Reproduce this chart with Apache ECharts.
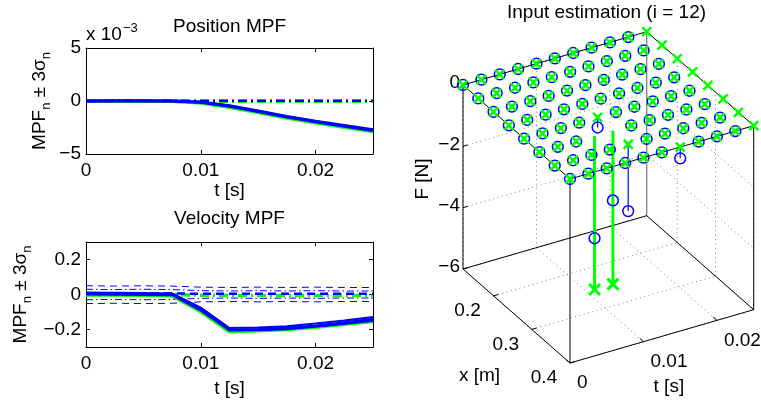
<!DOCTYPE html>
<html><head><meta charset="utf-8">
<script src="https://cdn.jsdelivr.net/npm/echarts@6/dist/echarts.min.js"></script>
<style>html,body{margin:0;padding:0;background:#fff}#c{width:761px;height:402px}</style>
</head><body><div id="c"></div>
<script>
// ---------- data: left panels ----------
const tSteps = [0, 0.0025, 0.005, 0.0075, 0.01, 0.0125, 0.015, 0.0175, 0.02, 0.0225, 0.025];
// position MPF (units of 1e-3)
const posBlueA  = [0, 0, 0, 0, -0.10, -0.45, -0.95, -1.45, -1.90, -2.30, -2.70];
const posBlueB  = [0, 0.02, 0.02, 0, -0.12, -0.50, -1.00, -1.50, -1.95, -2.38, -2.78];
const posGreen  = [0, -0.05, -0.05, -0.05, -0.22, -0.62, -1.12, -1.62, -2.08, -2.50, -2.90];
const posBndBlue  = [0.03, 0.03, 0.03, 0.03, 0.03, 0.03, 0.03, 0.03, 0.03, 0.03, 0.03];
const posBndGreen = [-0.03, -0.03, -0.03, -0.03, -0.03, -0.03, -0.03, -0.03, -0.03, -0.03, -0.03];
// velocity MPF
const velBlueA = [0.005, 0.005, 0.003, 0.002, -0.085, -0.200, -0.198, -0.192, -0.178, -0.160, -0.140];
const velBlueB = [0.012, 0.010, 0.008, 0.006, -0.075, -0.192, -0.188, -0.182, -0.166, -0.148, -0.128];
const velBlueC = [0.000, -0.002, -0.003, -0.004, -0.092, -0.206, -0.204, -0.198, -0.184, -0.168, -0.150];
const velGreen = [-0.004, -0.005, -0.006, -0.008, -0.100, -0.214, -0.208, -0.202, -0.188, -0.172, -0.156];
const velDashUp  = [0.050, 0.048, 0.050, 0.048, 0.042, 0.040, 0.042, 0.040, 0.042, 0.040, 0.040];
const velDashLo  = [-0.052, -0.050, -0.052, -0.050, -0.042, -0.040, -0.042, -0.040, -0.042, -0.040, -0.040];
const velDotUp   = [0.030, 0.028, 0.030, 0.028, 0.022, 0.020, 0.022, 0.020, 0.022, 0.020, 0.020];
const velDotLo   = [-0.030, -0.028, -0.030, -0.028, -0.022, -0.020, -0.022, -0.020, -0.022, -0.020, -0.020];
const velGreenBnd = [0.000, 0.000, 0.000, 0.000, -0.004, -0.005, -0.005, -0.005, -0.005, -0.005, -0.005];
const velBlueBnd  = [0.006, 0.006, 0.006, 0.006, 0.004, 0.004, 0.004, 0.004, 0.004, 0.004, 0.004];
const tTicks = [0, 0.01, 0.02];
const posTicks = [-5, 0, 5];
const velTicks = [-0.2, 0, 0.2];

// ---------- data: input estimation (3D) ----------
const xNodes = [0.12, 0.16, 0.20, 0.24, 0.28, 0.32, 0.36, 0.40];
const tNodes = [0, 0.0025, 0.005, 0.0075, 0.01, 0.0125, 0.015, 0.0175, 0.02, 0.0225, 0.025];
// true force (green x), rows = xNodes, cols = tNodes
const fTrue = [
  [0,0,0,0,0,0,0,0,0,0,0],
  [0,0,0,0,0,0,0,0,0,0,0],
  [0,0,0,0,0,0,0,0,0,0,0],
  [0,0,0,0,0,0,0,0,0,0,0],
  [0,0,0,0,0,0,0,0,0,0,0],
  [0,0,0,-5,-5,0,0,0,0,0,0],
  [0,0,0,0,0,0,0,0,0,0,0],
  [0,0,0,0,0,0,0,0,0,0,0]
];
// estimated force (blue o), rows = xNodes, cols = first 10 tNodes
const fEst = [
  [0,0,0,0,0,0,0,0,0,0],
  [0,0,0,0,0,0,0,0,0,0],
  [0,0,0,0,0,0,0,0,0,0],
  [0,0,0,0,0,0,0,0,0,0],
  [0,0,0,0,-0.33,0,0,0,0,0],
  [0,0,0,-3.33,-2.27,0,0,0,0,0],
  [0,0,0,0,-2.18,0,0,0,0,0],
  [0,0,0,0,0,0,-0.37,0,0,0]
];
const x3Ticks = [0.2, 0.3, 0.4];
const t3Ticks = [0, 0.01, 0.02];
const f3Ticks = [0, -2, -4, -6];
const x3Range = [0.12, 0.40];
const t3Range = [0, 0.025];
const f3Range = [-6, 0];

// ---------- layout / style ----------
const FONT = 'Liberation Sans, Arial, Helvetica, sans-serif';
const FS = 19;
const BLUE = '#0000ff', GREEN = '#00ff00';
// view of the 3D box (screen vectors of the full axis ranges)
const VIEW = { origin: [463, 85], ex: [107, 94], et: [183.7, -53.3], ef: [0, 184] };
function proj(x, t, f) {
  const u = (x - x3Range[0]) / (x3Range[1] - x3Range[0]);
  const v = (t - t3Range[0]) / (t3Range[1] - t3Range[0]);
  const w = (f3Range[1] - f) / (f3Range[1] - f3Range[0]);
  return [VIEW.origin[0] + u * VIEW.ex[0] + v * VIEW.et[0] + w * VIEW.ef[0],
          VIEW.origin[1] + u * VIEW.ex[1] + v * VIEW.et[1] + w * VIEW.ef[1]];
}
const minus = s => String(s).replace('-', '\u2212');
const fmtNum = v => minus(parseFloat((+v).toPrecision(6)));
const pairs = ys => tSteps.map((t, i) => [t, ys[i]]);

function line2d(name, xi, yi, ys, color, width, type, z) {
  return { name, type: 'line', xAxisIndex: xi, yAxisIndex: yi, data: pairs(ys), symbol: 'none',
    lineStyle: { color, width, type: type || 'solid' }, z: z || 2, silent: true, animation: false };
}

function boxAxes(gridIndex, min, max, interval, ticks, isX, name, nameGap) {
  const common = {
    gridIndex, type: 'value', min, max, interval,
    axisLine: { show: true, onZero: false, lineStyle: { color: '#000', width: 1 } },
    axisTick: { show: true, inside: true, length: 4, customValues: ticks, lineStyle: { color: '#000' } },
    splitLine: { show: false },
  };
  const main = Object.assign({}, common, {
    position: isX ? 'bottom' : 'left',
    axisLabel: { show: true, customValues: ticks, color: '#000', fontSize: FS, fontFamily: FONT,
      margin: isX ? 7 : 5, formatter: fmtNum },
    name, nameLocation: 'middle', nameGap,
    nameTextStyle: isX ? { color: '#000', fontSize: FS, fontFamily: FONT } :
      { color: '#000', fontSize: FS, fontFamily: FONT, rich: { s: { fontSize: 13, fontFamily: FONT, color: '#000', padding: [14, 0, 0, 0] } } }
  });
  const opp = Object.assign({}, common, { position: isX ? 'top' : 'right', axisLabel: { show: false } });
  return [main, opp];
}

const yName = 'MPF{s|n} \u00b1 3\u03c3{s|n}';
const [x0, x1] = boxAxes(0, 0, 0.025, 0.01, tTicks, true, 't [s]', 25);
const [x2, x3] = boxAxes(1, 0, 0.025, 0.01, tTicks, true, 't [s]', 32);
const [y0, y1] = boxAxes(0, -5, 5, 5, posTicks, false, yName, 33);
const [y2, y3] = boxAxes(1, -0.3, 0.3, 0.1, velTicks, false, yName, 52);

// ---------- 3D render functions ----------
function renderAxes3d(params, api) {
  const P = (x, t, f) => api.coord(proj(x, t, f));
  const ch = [];
  const seg = (a, b, style) => ch.push({ type: 'line', shape: { x1: a[0], y1: a[1], x2: b[0], y2: b[1] }, style });
  const dot = { stroke: '#808080', lineWidth: 1, lineDash: [1, 3.5] };
  const solid = { stroke: '#000', lineWidth: 1 };
  const [xa, xb] = x3Range, [ta, tb] = t3Range, [fa, fb] = f3Range;
  // grid: floor and back walls
  x3Ticks.forEach(x => { seg(P(x, ta, fa), P(x, tb, fa), dot); seg(P(x, tb, fa), P(x, tb, fb), dot); });
  t3Ticks.forEach(t => { seg(P(xa, t, fa), P(xb, t, fa), dot); seg(P(xa, t, fa), P(xa, t, fb), dot); });
  f3Ticks.forEach(f => { seg(P(xa, ta, f), P(xa, tb, f), dot); seg(P(xa, tb, f), P(xb, tb, f), dot); });
  // box edges
  seg(P(xa, tb, fa), P(xa, tb, fb), { stroke: '#808080', lineWidth: 1.3 });
  seg(P(xa, ta, fa), P(xa, tb, fa), solid);
  seg(P(xa, tb, fa), P(xb, tb, fa), solid);
  seg(P(xa, ta, fa), P(xb, ta, fa), solid);
  seg(P(xb, ta, fa), P(xb, tb, fa), solid);
  seg(P(xa, ta, fa), P(xa, ta, fb), solid);
  seg(P(xb, ta, fa), P(xb, ta, fb), solid);
  seg(P(xb, tb, fa), P(xb, tb, fb), solid);
  seg(P(xa, ta, fb), P(xb, ta, fb), solid);
  seg(P(xb, ta, fb), P(xb, tb, fb), solid);
  seg(P(xb, tb, fb), P(xa, tb, fb), solid);
  seg(P(xa, tb, fb), P(xa, ta, fb), solid);
  // ticks and labels
  const unit = (v, L) => { const n = Math.hypot(v[0], v[1]); return [v[0] / n * L, v[1] / n * L]; };
  const dt = unit(VIEW.et, 5), dx = unit(VIEW.ex, 5);
  const txt = (p, text, align, vAlign, rot) => ch.push({ type: 'text', x: p[0], y: p[1], rotation: rot || 0,
    style: { text, fill: '#000', fontSize: FS, fontFamily: FONT, align, verticalAlign: vAlign, textAlign: align, textVerticalAlign: vAlign } });
  f3Ticks.forEach(f => { const p = P(xa, ta, f); seg(p, [p[0] + dt[0], p[1] + dt[1]], solid);
    txt([p[0] - 3, p[1] - 2], minus(f), 'right', 'middle'); });
  x3Ticks.forEach(x => { const p = P(x, ta, fa); seg(p, [p[0] + dt[0], p[1] + dt[1]], solid);
    txt([p[0] - 26, p[1] + 15], fmtNum(x), 'center', 'middle'); });
  t3Ticks.forEach(t => { const p = P(xb, t, fa); seg(p, [p[0] - dx[0], p[1] - dx[1]], solid);
    txt([p[0] + 7, p[1] + 20], fmtNum(t), 'left', 'middle'); });
  const mx = P((xa + xb) / 2, ta, fa), mt = P(xb, (ta + tb) / 2, fa), mf = P(xa, ta, (fa + fb) / 2);
  txt([mx[0] - 37, mx[1] + 60], 'x [m]', 'center', 'middle');
  txt([mt[0] + 7, mt[1] + 50], 't [s]', 'center', 'middle');
  txt([mf[0] - 40, mf[1] + 2], 'F [N]', 'center', 'middle', Math.PI / 2);
  return { type: 'group', children: ch };
}
function renderStem(color, width) {
  return function (params, api) {
    const x = api.value(0), t = api.value(1), f = api.value(2);
    const a = api.coord(proj(x, t, 0)), b = api.coord(proj(x, t, f));
    return { type: 'line', shape: { x1: a[0], y1: a[1], x2: b[0], y2: b[1] }, style: { stroke: color, lineWidth: width } };
  };
}
function renderCircle(params, api) {
  const p = api.coord(proj(api.value(0), api.value(1), api.value(2)));
  return { type: 'circle', shape: { cx: p[0], cy: p[1], r: 5.4 }, style: { fill: 'none', stroke: BLUE, lineWidth: 1.5 } };
}
function renderCross(params, api) {
  const f = api.value(2);
  const p = api.coord(proj(api.value(0), api.value(1), f));
  const s = f !== 0 ? 5.5 : 4.5, w = f !== 0 ? 3 : 2.5;
  return { type: 'group', children: [
    { type: 'line', shape: { x1: p[0] - s, y1: p[1] - s, x2: p[0] + s, y2: p[1] + s }, style: { stroke: GREEN, lineWidth: w } },
    { type: 'line', shape: { x1: p[0] - s, y1: p[1] + s, x2: p[0] + s, y2: p[1] - s }, style: { stroke: GREEN, lineWidth: w } }
  ] };
}
const estPts = [], truePts = [], estStems = [], trueStems = [];
xNodes.forEach((x, i) => {
  tNodes.forEach((t, j) => {
    truePts.push([x, t, fTrue[i][j]]);
    if (fTrue[i][j] !== 0) trueStems.push([x, t, fTrue[i][j]]);
    if (j < fEst[i].length) {
      estPts.push([x, t, fEst[i][j]]);
      if (fEst[i][j] !== 0) estStems.push([x, t, fEst[i][j]]);
    }
  });
});
const c3 = { type: 'custom', coordinateSystem: 'cartesian2d', xAxisIndex: 4, yAxisIndex: 4, silent: true, animation: false, clip: false };

const option = {
  backgroundColor: '#fff',
  animation: false,
  grid: [
    { left: 86, top: 48, width: 287, height: 106 },
    { left: 86, top: 242, width: 287, height: 105 },
    { left: 0, top: 0, width: 761, height: 402 }
  ],
  xAxis: [x0, x1, x2, x3,
    { gridIndex: 2, type: 'value', min: 0, max: 761, show: false }],
  yAxis: [y0, y1, y2, y3,
    { gridIndex: 2, type: 'value', min: 0, max: 402, inverse: true, show: false }],
  graphic: [
    { type: 'text', x: 229.5, y: 26.5, style: { text: 'Position MPF', fill: '#000', fontSize: FS, fontFamily: FONT, align: 'center', verticalAlign: 'middle', textAlign: 'center', textVerticalAlign: 'middle' } },
    { type: 'text', x: 229.5, y: 219, style: { text: 'Velocity MPF', fill: '#000', fontSize: FS, fontFamily: FONT, align: 'center', verticalAlign: 'middle', textAlign: 'center', textVerticalAlign: 'middle' } },
    { type: 'text', x: 606.5, y: 12.5, style: { text: 'Input estimation (i = 12)', fill: '#000', fontSize: FS, fontFamily: FONT, align: 'center', verticalAlign: 'middle', textAlign: 'center', textVerticalAlign: 'middle' } },
    { type: 'text', x: 86, y: 35, style: { text: 'x 10{sup|\u22123}', fill: '#000', fontSize: FS, fontFamily: FONT, align: 'left', verticalAlign: 'middle', textAlign: 'left', textVerticalAlign: 'middle',
      rich: { sup: { fontSize: 13, fontFamily: FONT, fill: '#000', color: '#000', padding: [0, 0, 14, 1] } } } }
  ],
  series: [
    // position panel
    line2d('posBndGreen', 0, 0, posBndGreen, GREEN, 3.5, [9, 4, 2, 4], 2),
    line2d('posBndBlue', 0, 0, posBndBlue, BLUE, 2.5, [9, 4, 2, 4], 3),
    line2d('posGreen', 0, 0, posGreen, GREEN, 3, 'solid', 4),
    line2d('posBlueB', 0, 0, posBlueB, BLUE, 3, 'solid', 5),
    line2d('posBlueA', 0, 0, posBlueA, BLUE, 3, 'solid', 5),
    // velocity panel
    line2d('velDashUp', 2, 2, velDashUp, BLUE, 1, [7, 5], 2),
    line2d('velDashLo', 2, 2, velDashLo, BLUE, 1, [7, 5], 2),
    line2d('velDotUp', 2, 2, velDotUp, BLUE, 1, [7, 3, 1.5, 3], 2),
    line2d('velDotLo', 2, 2, velDotLo, BLUE, 1, [7, 3, 1.5, 3], 2),
    line2d('velGreenBnd', 2, 2, velGreenBnd, GREEN, 3.5, [9, 4, 2, 4], 3),
    line2d('velBlueBnd', 2, 2, velBlueBnd, BLUE, 2.5, [8, 5], 3),
    line2d('velGreen', 2, 2, velGreen, GREEN, 3, 'solid', 4),
    line2d('velBlueC', 2, 2, velBlueC, BLUE, 2, 'solid', 5),
    line2d('velBlueB', 2, 2, velBlueB, BLUE, 2, 'solid', 5),
    line2d('velBlueA', 2, 2, velBlueA, BLUE, 2.5, 'solid', 5),
    // 3D input estimation
    Object.assign({}, c3, { name: 'axes3d', data: [[0, 0, 0]], renderItem: renderAxes3d, z: 1 }),
    Object.assign({}, c3, { name: 'estStems', data: estStems, renderItem: renderStem(BLUE, 1.2), z: 2 }),
    Object.assign({}, c3, { name: 'trueStems', data: trueStems, renderItem: renderStem(GREEN, 3), z: 3 }),
    Object.assign({}, c3, { name: 'estimate', data: estPts, renderItem: renderCircle, z: 4 }),
    Object.assign({}, c3, { name: 'true', data: truePts, renderItem: renderCross, z: 5 })
  ]
};
const chart = echarts.init(document.getElementById('c'), null, { renderer: 'canvas' });
chart.setOption(option);
</script></body></html>
